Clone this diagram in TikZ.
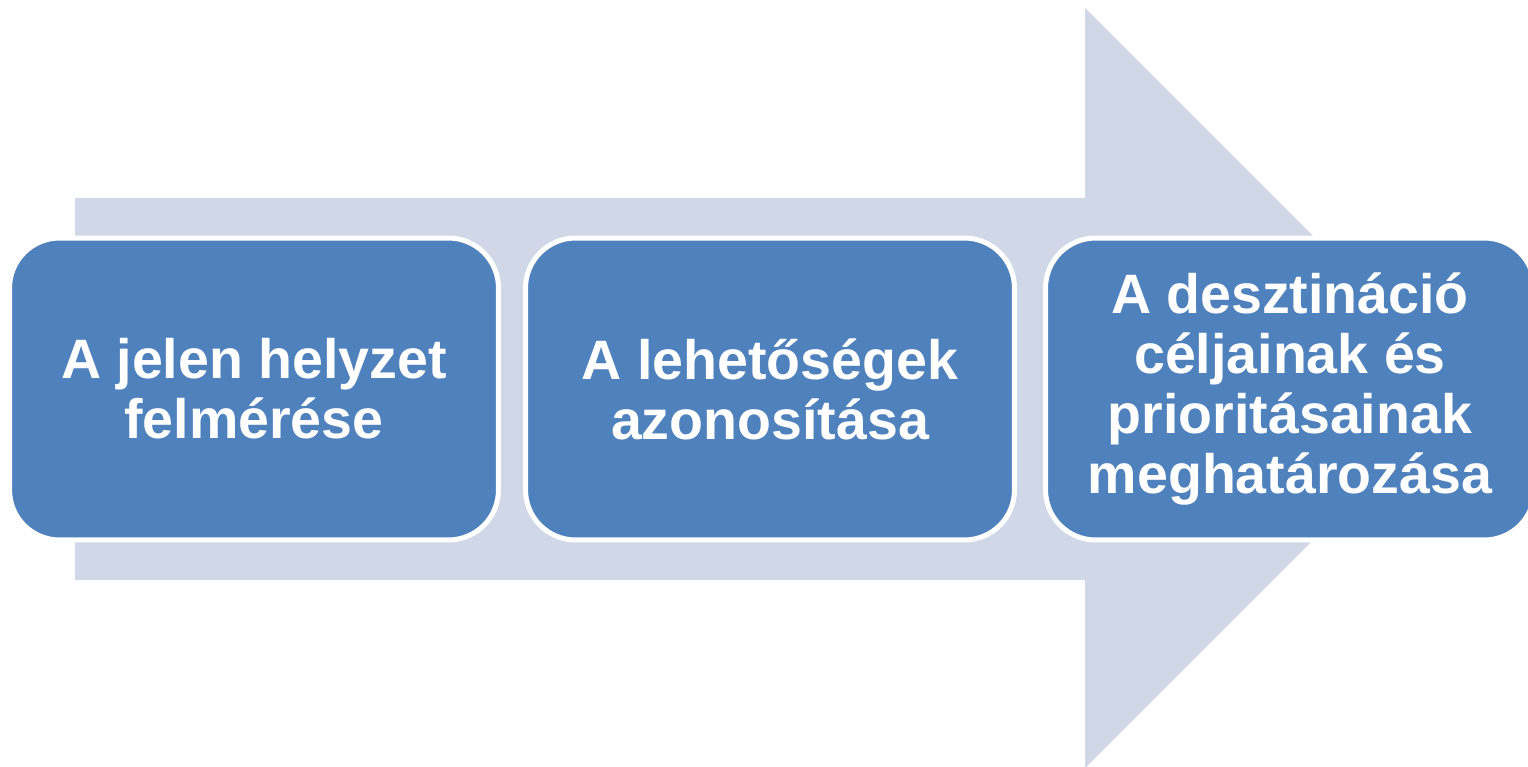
\documentclass[tikz,border=0pt]{standalone}
\usepackage{fontspec}
\setmainfont{Liberation Sans}
\usetikzlibrary{positioning}
\definecolor{stagefill}{HTML}{4F81BD}
\definecolor{arrowfill}{HTML}{D0D8E8}

\begin{document}
\begin{tikzpicture}[
  x=0.02cm, y=-0.02cm,
  stage/.style={rectangle, rounded corners=1cm, fill=stagefill, draw=white,
                line width=0.1cm, minimum width=9.78cm, minimum height=6.04cm,
                align=center, text=white,
                font=\fontsize{31.6}{34.2}\selectfont\bfseries}
]
  \useasboundingbox (0,0) rectangle (1528,767);
  \clip (0,0) rectangle (1528,767);

  % Background arrow
  \fill[arrowfill] (75,198) -- (1085,198) -- (1085,8) -- (1465,388)
    -- (1085,768) -- (1085,580) -- (75,580) -- cycle;

  % Stages
  \node[stage] (now)  at (254,389)  {A jelen helyzet\\felmérése};
  \node[stage] (opts) at (770,389)  {A lehetőségek\\azonosítása};
  \node[stage] (goal) at (1290,389) {A desztináció\\céljainak és\\prioritásainak\\meghatározása};
\end{tikzpicture}
\end{document}
